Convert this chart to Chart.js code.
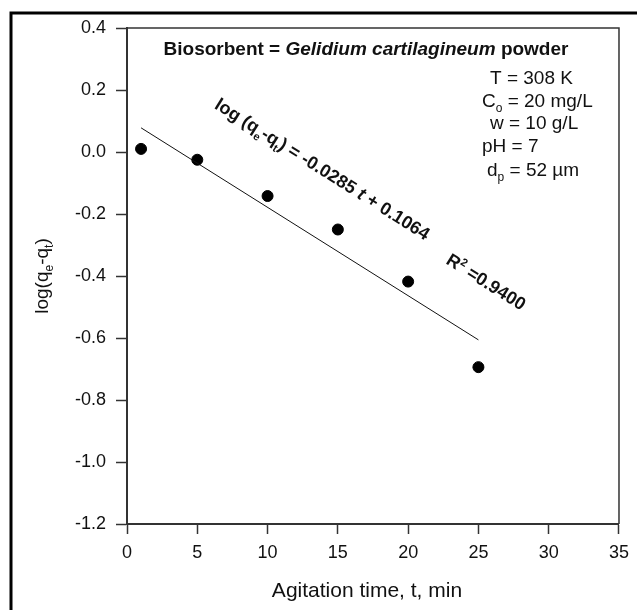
<!DOCTYPE html>
<html>
<head>
<meta charset="utf-8">
<script src="https://cdn.jsdelivr.net/npm/chart.js@4.4.1/dist/chart.umd.min.js"></script>
<style>
  html, body { margin: 0; padding: 0; background: #fff; }
</style>
</head>
<body>
<canvas id="kinetics" width="637" height="610"></canvas>
<script>
// data
const timeMin = [1, 5, 10, 15, 20, 25];
const logQ = [0.01, -0.025, -0.142, -0.25, -0.418, -0.694];

// regression line, end points only
const fitTime = [1, 25];
const fitLog = [0.078, -0.606];

// tick values
const xTicks = [0, 5, 10, 15, 20, 25, 30, 35];
const yTicks = [-1.2, -1.0, -0.8, -0.6, -0.4, -0.2, 0.0, 0.2, 0.4];

// text in the plot
const titleParts = [
  { t: "Biosorbent = " },
  { t: "Gelidium cartilagineum", it: true },
  { t: " powder" },
];
const conditionRows = [
  [{ t: "T = 308 K" }],
  [{ t: "C" }, { t: "o", sub: true }, { t: " = 20 mg/L" }],
  [{ t: "w = 10 g/L" }],
  [{ t: "pH = 7" }],
  [{ t: "d" }, { t: "p", sub: true }, { t: " = 52 \u00b5m" }],
];
const equationParts = [
  { t: "log (q" }, { t: "e", sub: true }, { t: "-q" }, { t: "t", sub: true },
  { t: ") = -0.0285 " }, { t: "t", it: true }, { t: " + 0.1064" },
];
const rSquaredParts = [{ t: "R" }, { t: "2", sup: true }, { t: " =0.9400" }];
const yTitleParts = [{ t: "log(q" }, { t: "e", sub: true }, { t: "-q" }, { t: "t", sub: true }, { t: ")" }];
const xTitle = "Agitation time, t, min";

const FONT = "'Liberation Sans', Arial, Helvetica, sans-serif";

// draw a line of text with sub/superscripts
const drawParts = (ctx, parts, x, y, size, weight, align) => {
  const fontFor = (p) =>
    (p.it ? "italic " : "") + weight + " " + (p.sub || p.sup ? Math.round(size * 0.62) : size) + "px " + FONT;
  let total = 0;
  parts.forEach((p) => {
    ctx.font = fontFor(p);
    total += ctx.measureText(p.t).width;
  });
  let cx = align === "center" ? x - total / 2 : x;
  ctx.textAlign = "left";
  ctx.textBaseline = "alphabetic";
  parts.forEach((p) => {
    ctx.font = fontFor(p);
    let dy = 0;
    if (p.sub) dy = size * 0.28;
    if (p.sup) dy = -size * 0.4;
    ctx.fillText(p.t, cx, y + dy);
    cx += ctx.measureText(p.t).width;
  });
};

const decorations = {
  id: "decorations",
  afterDraw(chart) {
    const { ctx, chartArea: a, scales } = chart;
    const px = (v) => scales.x.getPixelForValue(v);
    const py = (v) => scales.y.getPixelForValue(v);
    ctx.save();

    // outer frame
    ctx.strokeStyle = "#000";
    ctx.lineWidth = 3;
    ctx.strokeRect(11, 13, 700, 700);

    // top and right edge of the plot box
    ctx.strokeStyle = "#333";
    ctx.lineWidth = 1.5;
    ctx.beginPath();
    ctx.moveTo(a.left, a.top);
    ctx.lineTo(a.right, a.top);
    ctx.lineTo(a.right, a.bottom);
    ctx.stroke();

    ctx.fillStyle = "#111";

    // title
    drawParts(ctx, titleParts, 366, 55, 19, "bold", "center");

    // conditions
    const rowX = [490, 482, 490, 482, 487];
    const rowY = [84, 107, 129, 152, 176];
    conditionRows.forEach((row, i) => drawParts(ctx, row, rowX[i], rowY[i], 19, "normal", "left"));

    // rotated equation and R2 along the fit line
    const ang = Math.atan2(py(fitLog[1]) - py(fitLog[0]), px(fitTime[1]) - px(fitTime[0]));
    ctx.save();
    ctx.translate(px(13.9), py(-0.055));
    ctx.rotate(ang);
    drawParts(ctx, equationParts, 0, 6, 18, "bold", "center");
    ctx.restore();

    ctx.save();
    ctx.translate(px(25.55), py(-0.419));
    ctx.rotate(ang);
    drawParts(ctx, rSquaredParts, 0, 6, 18, "bold", "center");
    ctx.restore();

    // axis titles
    drawParts(ctx, [{ t: xTitle }], (a.left + a.right) / 2 - 6, 597, 21, "normal", "center");
    ctx.save();
    ctx.translate(48, (a.top + a.bottom) / 2);
    ctx.rotate(-Math.PI / 2);
    drawParts(ctx, yTitleParts, 0, 0, 19, "normal", "center");
    ctx.restore();

    ctx.restore();
  },
};

new Chart(document.getElementById("kinetics"), {
  type: "scatter",
  data: {
    datasets: [
      {
        label: "fit",
        data: fitTime.map((t, i) => ({ x: t, y: fitLog[i] })),
        showLine: true,
        borderColor: "#111",
        borderWidth: 1,
        pointRadius: 0,
      },
      {
        label: "measured",
        data: timeMin.map((t, i) => ({ x: t, y: logQ[i] })),
        backgroundColor: "#000",
        borderColor: "#000",
        pointRadius: 5.5,
      },
    ],
  },
  options: {
    responsive: false,
    animation: false,
    devicePixelRatio: 1,
    layout: { padding: { left: 20, top: 28, right: 16, bottom: 10 } },
    plugins: { legend: { display: false }, tooltip: { enabled: false } },
    scales: {
      x: {
        type: "linear",
        min: 0,
        max: 35,
        afterBuildTicks: (s) => { s.ticks = xTicks.map((v) => ({ value: v })); },
        afterFit: (s) => { s.height = 76; },
        grid: { drawOnChartArea: false, drawTicks: true, tickLength: 10, tickColor: "#333", tickWidth: 1.5 },
        border: { display: true, color: "#333", width: 2 },
        ticks: {
          color: "#111",
          padding: 8,
          maxRotation: 0,
          font: { family: FONT, size: 18 },
          callback: (v) => String(v),
        },
      },
      y: {
        min: -1.2,
        max: 0.4,
        afterBuildTicks: (s) => { s.ticks = yTicks.map((v) => ({ value: v })); },
        afterFit: (s) => { s.width = 107; },
        grid: { drawOnChartArea: false, drawTicks: true, tickLength: 11, tickColor: "#333", tickWidth: 1.5 },
        border: { display: true, color: "#333", width: 2 },
        ticks: {
          color: "#111",
          padding: 10,
          font: { family: FONT, size: 18 },
          callback: (v) => (Math.abs(v) < 1e-9 ? 0 : v).toFixed(1),
        },
      },
    },
  },
  plugins: [decorations],
});
</script>
</body>
</html>
